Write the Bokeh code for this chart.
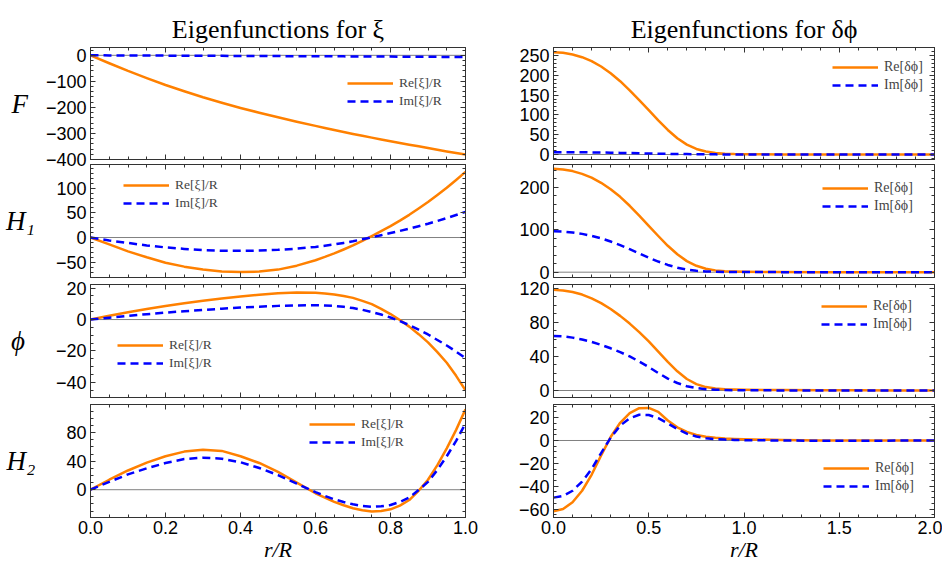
import math
from bokeh.plotting import figure
from bokeh.layouts import column, row
from bokeh.models import (Range1d, LinearAxis, SingleIntervalTicker, FixedTicker, Span,
                          Legend, LegendItem, CustomJSTickFormatter)
from bokeh.embed import file_html
from bokeh.resources import INLINE

# ---------------- data ----------------
x_left = [0.0, 0.05, 0.1, 0.15, 0.2, 0.25, 0.3, 0.35, 0.4, 0.45, 0.5, 0.55, 0.6,
          0.625, 0.65, 0.675, 0.7, 0.725, 0.75, 0.775, 0.8, 0.825, 0.85, 0.875,
          0.9, 0.925, 0.95, 0.975, 1.0]

F_re_xi = [0, -30.5, -60, -87.5, -114, -138, -161, -182, -202, -220.5, -238, -255, -271,
           -279, -287, -294.5, -302, -309, -316, -323, -330, -336.5, -343, -349.5,
           -356, -362.5, -369, -375, -381]
F_im_xi = [0, -0.3, -0.6, -0.9, -1.2, -1.5, -1.8, -2.1, -2.4, -2.7, -3.0, -3.3, -3.6,
           -3.75, -3.9, -4.05, -4.2, -4.4, -4.6, -4.8, -5.0, -5.2, -5.4, -5.6,
           -5.8, -6.0, -6.2, -6.35, -6.5]
H1_re_xi = [0, -14, -28, -40, -51, -59, -65, -69, -70, -69, -65, -57, -46,
            -39.3, -32, -24.2, -16, -6.7, 3, 12.8, 23, 34.2, 46, 58.7,
            72, 86.2, 101, 116.7, 133]
H1_im_xi = [0, -6, -11, -16, -20, -23, -25.5, -26.8, -27, -26.5, -25, -22.5, -19,
            -16.6, -14, -10.9, -7.5, -3.6, 0.5, 4.7, 9, 13.4, 18, 22.9,
            28, 33.6, 39.5, 45.6, 52]
phi_re_xi = [0, 2.4, 4.7, 6.7, 8.6, 10.4, 12.0, 13.4, 14.7, 15.8, 16.7, 17.2, 17.0,
             16.6, 16.0, 15.0, 13.8, 11.9, 9.8, 6.8, 3.5, -0.3, -4.5, -9.3,
             -14.5, -20.7, -27.5, -35.8, -45]
phi_im_xi = [0, 1.2, 2.3, 3.4, 4.4, 5.3, 6.1, 6.9, 7.6, 8.2, 8.7, 9.0, 9.1,
             9.0, 8.7, 8.1, 7.3, 6.2, 4.8, 3.2, 1.3, -1.0, -3.5, -6.4,
             -9.5, -13.0, -16.5, -20.4, -24.5]
H2_re_xi = [0, 14, 27, 38, 47, 53.5, 56, 54.5, 47, 37.5, 25, 10, -5,
            -11.2, -17, -21.8, -26, -28.8, -30.5, -29.8, -27.5, -22.3, -14.5, -1.5,
            14, 34.5, 58, 84, 113]
H2_im_xi = [0, 11, 21.5, 30, 37.5, 43, 45, 43.5, 38.5, 30.5, 20.5, 8.5, -3.5,
            -8.7, -13.5, -17.3, -20.5, -22.8, -24, -23.3, -21.5, -17.2, -11, -0.5,
            11, 27.8, 47, 68.5, 93]

x_right = [0.0, 0.05, 0.1, 0.15, 0.2, 0.25, 0.3, 0.35, 0.4, 0.45, 0.5,
           0.55, 0.6, 0.65, 0.7, 0.75, 0.8, 0.85, 0.9, 0.95, 1.0,
           1.2, 1.4, 1.6, 1.8, 2.0]

F_re_dphi = [258, 256.5, 252.5, 245.5, 235.5, 222, 205, 185, 162, 137, 112,
             86, 62, 41, 25, 14, 7.5, 3.8, 2, 1, 0.6, 0.2, 0.1, 0, 0, 0]
F_im_dphi = [6.0, 6.0, 5.9, 5.7, 5.4, 5.0, 4.6, 4.1, 3.6, 3.1, 2.6,
             2.1, 1.7, 1.3, 1.0, 0.7, 0.5, 0.35, 0.25, 0.15, 0.1, 0.05, 0, 0, 0, 0]
H1_re_dphi = [243, 241.5, 237.5, 231, 222, 210, 195, 177, 156, 133, 109,
              85, 62, 42, 26, 15, 8, 4.2, 2.3, 1.4, 0.9, 0.3, 0.1, 0, 0, 0]
H1_im_dphi = [96, 95.3, 93.3, 90, 85.5, 79.5, 72, 63.5, 54, 44, 34,
              25, 17, 10.5, 6, 3.3, 1.8, 1, 0.6, 0.4, 0.3, 0.1, 0, 0, 0, 0]
phi_re_dphi = [118, 117.3, 115.5, 112.5, 108, 102.5, 95.5, 87.5, 78.5, 68.5, 57.5,
               45.5, 33.5, 22.5, 13.5, 7.5, 4, 2.3, 1.5, 1.1, 0.9, 0.5, 0.3, 0.2, 0.1, 0.1]
phi_im_dphi = [64, 63.5, 62, 59.8, 57, 53.5, 49.5, 45, 40, 34, 27.5,
               20.5, 14, 8.8, 5, 2.8, 1.6, 1, 0.6, 0.4, 0.3, 0.1, 0, 0, 0, 0]
H2_re_dphi = [-62, -60, -54, -44, -30, -13, 3, 15.5, 24, 28.3, 28.5,
              25, 17.5, 11.5, 7.5, 4.8, 3.3, 2.3, 1.7, 1.3, 1.0, 0.5, 0.1, 0, 0, 0]
H2_im_dphi = [-50, -48.5, -44, -36, -25, -11, 2.5, 13, 19.5, 22.5, 22.3,
              19.5, 15, 10, 6, 3.5, 2, 1.2, 0.8, 0.5, 0.3, 0, -0.3, -0.3, -0.1, 0]

row_labels = ["F", "H\u2081", "\u03d5", "H\u2082"]
titles = ["Eigenfunctions for \u03be", "Eigenfunctions for \u03b4\u03d5"]
legend_xi = ["Re[\u03be]/R", "Im[\u03be]/R"]
legend_dphi = ["Re[\u03b4\u03d5]", "Im[\u03b4\u03d5]"]
x_label = "r/R"

# ---------------- style ----------------
ORANGE = "#FF8000"
BLUE = "#0000FF"
FRAME = "#333333"
SERIF = "Liberation Serif"
SANS = "Liberation Sans"

y_fmt = CustomJSTickFormatter(code="""
const v = Math.round(tick);
return v < 0 ? "\\u2212" + Math.abs(v) : String(v);
""")
x_fmt = CustomJSTickFormatter(code="return tick.toFixed(1);")


def positions(lo, hi, step):
    k0 = math.ceil(lo / step - 1e-9)
    k1 = math.floor(hi / step + 1e-9)
    return [round(k * step, 10) for k in range(k0, k1 + 1)]


def base_axis(ax):
    ax.axis_line_color = FRAME
    ax.major_tick_line_color = FRAME
    ax.minor_tick_line_color = FRAME
    ax.major_tick_in = 5
    ax.major_tick_out = 0
    ax.minor_tick_in = 3
    ax.minor_tick_out = 0


def labelled_axis(interval, nminor, fmt, standoff):
    ax = LinearAxis(ticker=SingleIntervalTicker(interval=interval, num_minor_ticks=nminor),
                    formatter=fmt)
    base_axis(ax)
    ax.major_label_text_font = SANS
    ax.major_label_text_font_size = "18px"
    ax.major_label_text_color = "black"
    ax.major_label_standoff = standoff
    return ax


def bare_axes(lo, hi, interval, nminor):
    majors = positions(lo, hi, interval)
    minors = [v for v in positions(lo, hi, interval / nminor)
              if all(abs(v - m) > 1e-6 for m in majors)]
    out = []
    for ticks, length in ((majors, 5), (minors, 3)):
        ax = LinearAxis(ticker=FixedTicker(ticks=[], minor_ticks=ticks))
        base_axis(ax)
        ax.minor_tick_in = length
        ax.major_label_standoff = 0
        ax.axis_label_standoff = 0
        out.append(ax)
    out[1].axis_line_color = None
    return out


TOPS = [47, 15, 16, 16]
BOTS = [14, 15, 15, 48]
FH = [112, 113, 113, 113]


def panel(x, re, im, xr, yr, xint, xminor, yint, yminor, left_col, r,
          leg_labels, leg_loc, title=None, row_label=None, label_standoff=10):
    fw = 375 if left_col else 381
    bl = 90 if left_col else 60
    br = 28 if left_col else 8
    p = figure(frame_width=fw, frame_height=FH[r],
               x_range=Range1d(*xr), y_range=Range1d(*yr),
               x_axis_type=None, y_axis_type=None,
               output_backend="svg", toolbar_location=None,
               min_border_left=bl, min_border_right=br,
               min_border_top=TOPS[r], min_border_bottom=BOTS[r],
               outline_line_color=FRAME, background_fill_color="white",
               border_fill_color=None)
    if title:
        p.title.text = title
        p.title.text_font = SERIF
        p.title.text_font_size = "26px"
        p.title.text_font_style = "normal"
        p.title.align = "center"
        p.title.text_color = "black"
        p.title.standoff = 8

    # bottom
    if r == 3:
        bx = labelled_axis(xint, xminor, x_fmt, 3)
        bx.axis_label = x_label
        bx.axis_label_text_font = SERIF
        bx.axis_label_text_font_style = "italic"
        bx.axis_label_text_font_size = "22px"
        bx.axis_label_text_color = "black"
        bx.axis_label_standoff = 0
        p.add_layout(bx, "below")
    else:
        for ax in bare_axes(xr[0], xr[1], xint, xminor):
            p.add_layout(ax, "below")
    for ax in bare_axes(xr[0], xr[1], xint, xminor):
        p.add_layout(ax, "above")

    ly = labelled_axis(yint, yminor, y_fmt, 4)
    if row_label:
        ly.axis_label = row_label
        ly.axis_label_text_font = SERIF
        ly.axis_label_text_font_style = "italic"
        ly.axis_label_text_font_size = "27px"
        ly.axis_label_text_color = "black"
        ly.axis_label_standoff = label_standoff
        ly.axis_label_orientation = "horizontal"
    p.add_layout(ly, "left")
    for ax in bare_axes(yr[0], yr[1], yint, yminor):
        p.add_layout(ax, "right")

    p.add_layout(Span(location=0, dimension="width", line_color="#808080",
                      line_width=1, level="underlay"))

    r1 = p.line(x, re, line_color=ORANGE, line_width=2.5, line_join="round")
    r2 = p.line(x, im, line_color=BLUE, line_width=2.5, line_dash="8 5", line_join="round")
    leg = Legend(items=[LegendItem(label=leg_labels[0], renderers=[r1]),
                        LegendItem(label=leg_labels[1], renderers=[r2])],
                 location=leg_loc, label_text_font=SERIF,
                 label_text_font_size="13.5px" if left_col else "14px",
                 glyph_width=46, glyph_height=14,
                 label_height=14, spacing=2, padding=0, margin=0,
                 label_standoff=6, border_line_alpha=0, background_fill_alpha=0)
    p.add_layout(leg)
    return p


L1 = panel(x_left, F_re_xi, F_im_xi, (0, 1), (-400, 30), 0.2, 4, 100, 5, True, 0,
           legend_xi, (257, 50), title=titles[0], row_label=row_labels[0],
           label_standoff=15)
L2 = panel(x_left, H1_re_xi, H1_im_xi, (0, 1), (-81, 148), 0.2, 4, 50, 5, True, 1,
           legend_xi, (33, 66), row_label=row_labels[1], label_standoff=18)
L3 = panel(x_left, phi_re_xi, phi_im_xi, (0, 1), (-49.6, 22.3), 0.2, 4, 20, 4, True, 2,
           legend_xi, (27, 26), row_label=row_labels[2], label_standoff=28)
L4 = panel(x_left, H2_re_xi, H2_im_xi, (0, 1), (-39, 119.6), 0.2, 4, 40, 4, True, 3,
           legend_xi, (219, 67), row_label=row_labels[3], label_standoff=28)

R1 = panel(x_right, F_re_dphi, F_im_dphi, (0, 2), (-12.6, 270), 0.5, 5, 50, 5, False, 0,
           legend_dphi, (279, 66), title=titles[1])
R2 = panel(x_right, H1_re_dphi, H1_im_dphi, (0, 2), (-12.5, 253), 0.5, 5, 100, 5, False, 1,
           legend_dphi, (269, 63))
R3 = panel(x_right, phi_re_dphi, phi_im_dphi, (0, 2), (-8.2, 124.3), 0.5, 5, 40, 4, False, 2,
           legend_dphi, (268, 65))
R4 = panel(x_right, H2_re_dphi, H2_im_dphi, (0, 2), (-67.4, 31.5), 0.5, 5, 20, 4, False, 3,
           legend_dphi, (270, 23))

rows = [row(L1, R1),
        row(L2, R2, margin=(-24, 0, 0, 0)),
        row(L3, R3, margin=(-24, 0, 0, 0)),
        row(L4, R4, margin=(-24, 0, 0, 0))]
layout = column(*rows)

open("out.html", "w").write(file_html(layout, INLINE))
